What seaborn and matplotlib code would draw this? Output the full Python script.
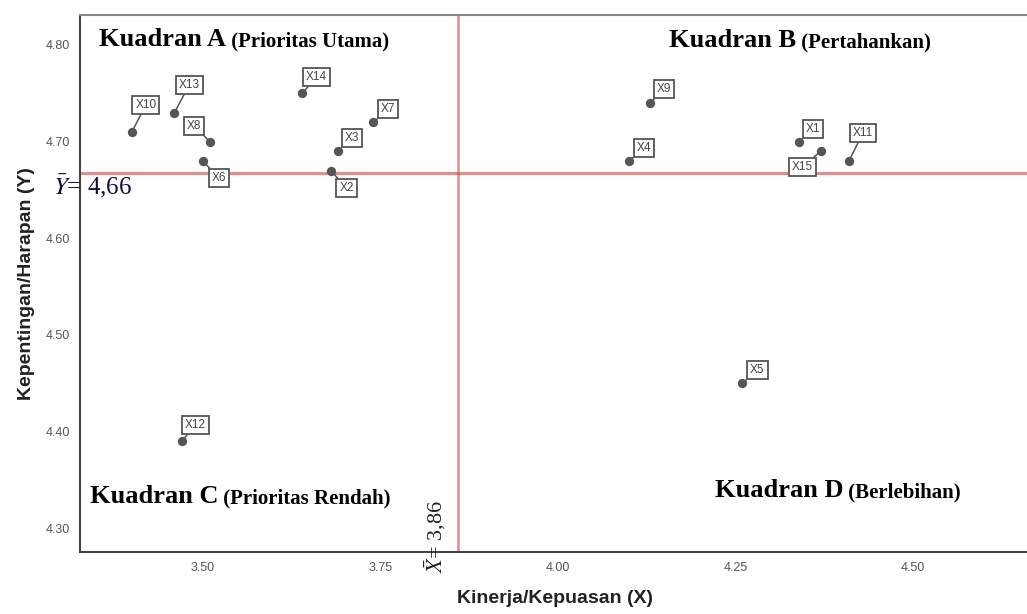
import numpy as np
import pandas as pd
import matplotlib
matplotlib.use('Agg')
import matplotlib.pyplot as plt
import matplotlib.transforms as mtransforms
import seaborn as sns

# ---- data (IPA quadrant chart) ----
atribut = ['X1', 'X2', 'X3', 'X4', 'X5', 'X6', 'X7', 'X8',
           'X9', 'X10', 'X11', 'X12', 'X13', 'X14', 'X15']
kinerja = [4.34, 3.68, 3.69, 4.10, 4.26, 3.50, 3.74, 3.51,
           4.13, 3.40, 4.41, 3.47, 3.46, 3.64, 4.37]
kepentingan = [4.70, 4.67, 4.69, 4.68, 4.45, 4.68, 4.72, 4.70,
               4.74, 4.71, 4.68, 4.39, 4.73, 4.75, 4.69]
x_mean = 3.86
y_mean = 4.668
x_mean_label = r'$\bar{X}$= 3,86'
y_mean_label = r'$\bar{Y}$= 4,66'
x_ticks = [3.50, 3.75, 4.00, 4.25, 4.50]
y_ticks = [4.30, 4.40, 4.50, 4.60, 4.70, 4.80]
kuadran = [('Kuadran A', ' (Prioritas Utama)'),
           ('Kuadran B', ' (Pertahankan)'),
           ('Kuadran C', ' (Prioritas Rendah)'),
           ('Kuadran D', ' (Berlebihan)')]

df = pd.DataFrame({'atribut': atribut, 'X': kinerja, 'Y': kepentingan})

# =================================================
sns.set_style('white')
plt.rcParams['font.family'] = ['Liberation Sans', 'DejaVu Sans']
plt.rcParams['mathtext.fontset'] = 'stix'

fig = plt.figure(figsize=(10.27, 6.14), dpi=100)
ax = fig.add_axes([80/1027, 62/614, 950/1027, 537/614])

sns.scatterplot(data=df, x='X', y='Y', ax=ax, color='#555555', s=45,
                edgecolor='#555555', linewidth=0, zorder=4)

ax.axvline(x_mean, color='#cc4444', lw=1.8, alpha=0.6, zorder=1)
ax.axhline(y_mean, color='#cc4444', lw=2.2, alpha=0.6, zorder=1)

ax.set_xlim(3.327, 4.665)
ax.set_ylim(4.2755, 4.831)
ax.set_xticks(x_ticks)
ax.set_yticks(y_ticks)
ax.set_xticklabels(['%.2f' % v for v in x_ticks])
ax.set_yticklabels(['%.2f' % v for v in y_ticks])
ax.tick_params(length=0, pad=7, labelsize=9, labelcolor='#555555')

for side in ['left', 'bottom']:
    ax.spines[side].set_color('#444444')
    ax.spines[side].set_linewidth(1.5)
ax.spines['top'].set_color('#888888')
ax.spines['top'].set_linewidth(1.5)
ax.spines['right'].set_visible(False)

ax.set_xlabel('Kinerja/Kepuasan (X)', fontsize=14, fontweight='bold',
              color='#222222', labelpad=12)
ax.set_ylabel('Kepentingan/Harapan (Y)', fontsize=14, fontweight='bold',
              color='#222222', labelpad=8)

# point labels (offsets in pixels: box centre relative to point)
label_offsets = {
    'X1': (14, 13), 'X2': (16, -17), 'X3': (14, 13), 'X4': (15, 13),
    'X5': (15, 13), 'X6': (16, -17), 'X7': (15, 13), 'X8': (-16, 16),
    'X9': (14, 14), 'X10': (14, 27), 'X11': (14, 28), 'X12': (14, 16),
    'X13': (15, 28), 'X14': (14, 16), 'X15': (-18, -16),
}
for name, xv, yv in zip(atribut, kinerja, kepentingan):
    ax.annotate(name, xy=(xv, yv), xytext=label_offsets[name],
                textcoords='offset pixels', ha='center', va='center',
                fontsize=8.5, color='#444444', zorder=3,
                bbox=dict(boxstyle='square,pad=0.25', fc='white',
                          ec='#555555', lw=1.3),
                arrowprops=dict(arrowstyle='-', color='#555555', lw=1.1,
                                shrinkA=0, shrinkB=0))

# quadrant titles
quad_pos = [(0.020, 0.942), (0.620, 0.940), (0.0105, 0.091), (0.668, 0.102)]
for (big, small), (qx, qy) in zip(kuadran, quad_pos):
    t = ax.text(qx, qy, big, transform=ax.transAxes, fontsize=19,
                fontweight='bold', family='Liberation Serif',
                va='baseline', ha='left', color='black')
    ax.annotate(small, xy=(1, 0), xycoords=t, va='bottom', ha='left',
                fontsize=15, fontweight='bold', family='Liberation Serif',
                color='black')

# mean labels
trans_y = mtransforms.blended_transform_factory(ax.transAxes, ax.transData)
ax.text(-0.028, y_mean, y_mean_label, transform=trans_y, va='top', ha='left',
        fontsize=18, family='Liberation Serif', color='#111133', clip_on=False)

trans_x = mtransforms.blended_transform_factory(ax.transData, ax.transAxes)
ax.annotate(x_mean_label, xy=(x_mean, 0), xycoords=trans_x,
            xytext=(-10, -21), textcoords='offset pixels', rotation=90,
            ha='right', va='bottom', fontsize=16, family='Liberation Serif',
            color='#222222', annotation_clip=False)

plt.savefig('out.png', dpi=100)
